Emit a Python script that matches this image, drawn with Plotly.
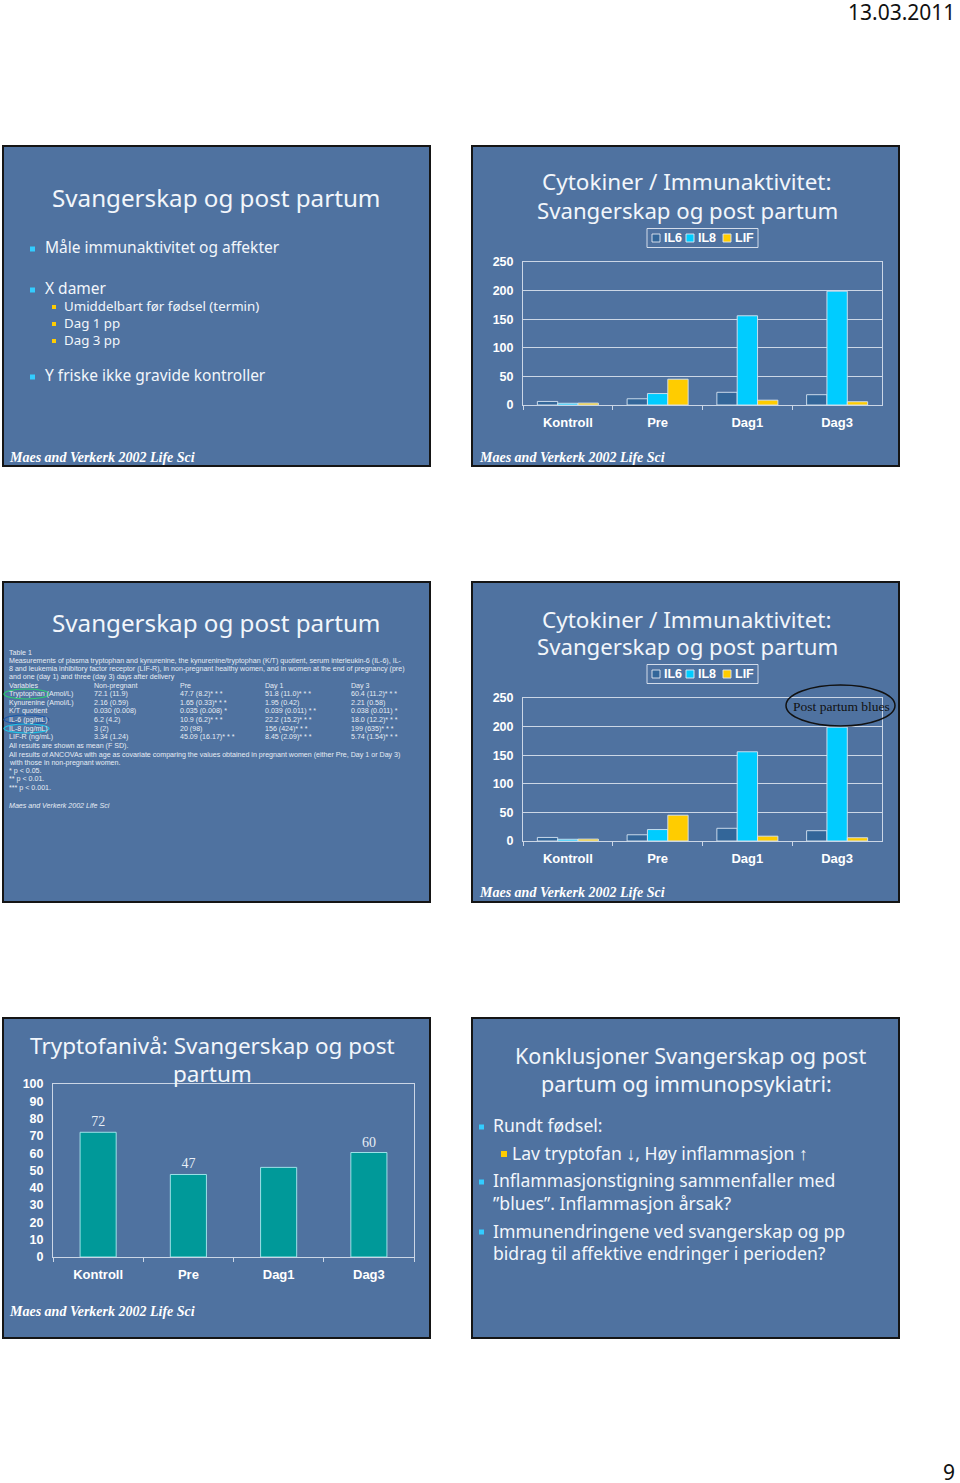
import plotly.graph_objects as go

# ---------------- data ----------------
categories = ["Kontroll", "Pre", "Dag1", "Dag3"]
series_names = ["IL6", "IL8", "LIF"]
il6 = [6.2, 10.9, 22.2, 18.0]
il8 = [3, 20, 156, 199]
lif = [3.34, 45.09, 8.45, 5.74]
tryptophan = [72.1, 47.7, 51.8, 60.4]
trp_labels = ["72", "47", "", "60"]
cyto_ticks = [0, 50, 100, 150, 200, 250]
trp_ticks = [0, 10, 20, 30, 40, 50, 60, 70, 80, 90, 100]

table_head = ["Variables", "Non-pregnant", "Pre", "Day 1", "Day 3"]
table_rows = [
    ["Tryptophan (Amol/L)", "72.1 (11.9)", "47.7 (8.2)* * *", "51.8 (11.0)* * *", "60.4 (11.2)* * *"],
    ["Kynurenine (Amol/L)", "2.16 (0.59)", "1.65 (0.33)* * *", "1.95 (0.42)", "2.21 (0.58)"],
    ["K/T quotient", "0.030 (0.008)", "0.035 (0.008) *", "0.039 (0.011) * *", "0.038 (0.011) *"],
    ["IL-6 (pg/mL)", "6.2 (4.2)", "10.9 (6.2)* * *", "22.2 (15.2)* * *", "18.0 (12.2)* * *"],
    ["IL-8 (pg/mL)", "3 (2)", "20 (98)", "156 (424)* * *", "199 (635)* * *"],
    ["LIF-R (ng/mL)", "3.34 (1.24)", "45.09 (16.17)* * *", "8.45 (2.09)* * *", "5.74 (1.54)* * *"],
]

# ---------------- helpers ----------------
W, H = 960, 1483
def X(p): return p / W
def Y(p): return 1 - p / H

SLIDE_BG = "#4F72A0"
TXT = "#F2F6FB"
SANS = "Noto Sans"
CYAN_B = "#33CCFF"
YEL_B = "#FFCC00"
C_IL6 = "#336699"
C_IL8 = "#00CCFF"
C_LIF = "#FFCC00"
FRAME = "rgba(225,232,242,0.85)"

fig = go.Figure()
annotations = []
shapes = []

def text(x, y, s, size, color=TXT, family=SANS, xanchor="left", weight="normal", style="normal"):
    annotations.append(dict(x=X(x), y=Y(y), xref="paper", yref="paper", text=s, showarrow=False,
                            xanchor=xanchor, yanchor="middle",
                            font=dict(size=size, color=color, family=family, weight=weight, style=style)))

def bullet(x, y, color, size=5):
    shapes.append(dict(type="rect", xref="paper", yref="paper", x0=X(x), x1=X(x + size),
                       y0=Y(y + size / 2), y1=Y(y - size / 2), fillcolor=color, line=dict(width=0)))

def footer(x, y):
    text(x, y, "Maes and Verkerk 2002 Life Sci", 14, color="#FFFFFF",
         family="Liberation Serif", weight="bold", style="italic")

# slides
slides = [(3, 146), (472, 146), (3, 582), (472, 582), (3, 1018), (472, 1018)]
for (sx, sy) in slides:
    shapes.append(dict(type="rect", xref="paper", yref="paper", layer="below",
                       x0=X(sx), x1=X(sx + 427), y0=Y(sy + 320), y1=Y(sy),
                       fillcolor=SLIDE_BG, line=dict(color="#151515", width=2)))

# header / page number
text(957, 12, "13.03.2011", 21, color="#111111", family="Noto Sans", xanchor="right")
text(957, 1472, "9", 21, color="#111111", family="Noto Sans", xanchor="right")

# ---------- slide 1 ----------
text(216, 197, "Svangerskap og post partum", 24.2, xanchor="center")
bullet(30, 249, CYAN_B)
text(43, 247, "Måle immunaktivitet og affekter", 15.5)
bullet(30, 290, CYAN_B)
text(43, 288, "X damer", 15.5)
for yy, s in [(306, "Umiddelbart før fødsel (termin)"), (323, "Dag 1 pp"), (340, "Dag 3 pp")]:
    bullet(52, yy + 1, YEL_B, 4)
    text(62, yy, s, 13.3)
bullet(30, 377, CYAN_B)
text(43, 375, "Y friske ikke gravide kontroller", 15.5)
footer(7, 457)

# ---------- slide 2 ----------
text(687, 182, "Cytokiner / Immunaktivitet:", 22.5, xanchor="center")
text(687, 210, "Svangerskap og post partum", 22.2, xanchor="center")
footer(477, 457)

# ---------- slide 3 ----------
text(216, 622, "Svangerskap og post partum", 24.2, xanchor="center")
TF = "Liberation Sans"
TS = 7.1
TC = "#E6ECF4"
lines_top = [
    (653, "Table 1"),
    (661, "Measurements of plasma tryptophan and kynurenine, the kynurenine/tryptophan (K/T) quotient, serum interleukin-6 (IL-6), IL-"),
    (669, "8 and leukemia inhibitory factor receptor (LIF-R), in non-pregnant healthy women, and in women at the end of pregnancy (pre)"),
    (677, "and one (day 1) and three (day 3) days after delivery"),
]
for yy, s in lines_top:
    text(7, yy, s, TS, color=TC, family=TF)
cols = [7, 92, 178, 263, 349]
for c, s in zip(cols, table_head):
    text(c, 686, s, TS, color=TC, family=TF)
row_y = [694, 703, 711, 720, 729, 737]
for yy, row in zip(row_y, table_rows):
    for c, s in zip(cols, row):
        text(c, yy, s, TS, color=TC, family=TF)
lines_bot = [
    (746, "All results are shown as mean (F SD)."),
    (755, "All results of ANCOVAs with age as covariate comparing the values obtained in pregnant women (either Pre, Day 1 or Day 3)"),
    (763, "with those in non-pregnant women."),
    (771, "* p &lt; 0.05."),
    (779, "** p &lt; 0.01."),
    (788, "*** p &lt; 0.001."),
]
for yy, s in lines_bot:
    text(7, yy, s, TS, color=TC, family=TF)
text(7, 806, "Maes and Verkerk 2002 Life Sci", TS, color=TC, family=TF, style="italic")
for (y0, y1, col) in [(689, 699, "#2ECC71"), (715, 724, "#1E5AA8"), (724, 733, "#22C3E6")]:
    shapes.append(dict(type="circle", xref="paper", yref="paper", x0=X(4), x1=X(49),
                       y0=Y(y1), y1=Y(y0), line=dict(color=col, width=1.2)))

# ---------- slide 4 ----------
text(687, 619, "Cytokiner / Immunaktivitet:", 22.5, xanchor="center")
text(687, 647, "Svangerskap og post partum", 22.2, xanchor="center")
shapes.append(dict(type="circle", xref="paper", yref="paper", x0=X(786), x1=X(895),
                   y0=Y(726), y1=Y(685), line=dict(color="#111111", width=1.5)))
text(841, 706, "Post partum blues", 13.5, color="#111111", family="Liberation Serif", xanchor="center")
footer(477, 892)

# ---------- slide 5 ----------
text(212, 1045, "Tryptofanivå: Svangerskap og post", 22.5, xanchor="center")
text(212, 1073, "partum", 22.5, xanchor="center")
footer(7, 1311)

# ---------- slide 6 ----------
text(690, 1055, "Konklusjoner Svangerskap og post", 21.6, xanchor="center")
text(686, 1083, "partum og immunopsykiatri:", 21.6, xanchor="center")
bullet(479, 1127, CYAN_B)
text(491, 1125, "Rundt fødsel:", 17.6)
bullet(501, 1154, YEL_B, 6)
text(510, 1153, "Lav tryptofan ↓, Høy inflammasjon ↑", 17.6)
bullet(479, 1182, CYAN_B)
text(491, 1180, "Inflammasjonstigning sammenfaller med", 17.6)
text(491, 1203, "”blues”. Inflammasjon årsak?", 17.6)
bullet(479, 1232, CYAN_B)
text(491, 1231, "Immunendringene ved svangerskap og pp", 17.6)
text(491, 1253, "bidrag til affektive endringer i perioden?", 17.6)

# ---------- cytokine charts (slides 2 and 4) ----------
series_vals = [il6, il8, lif]
series_cols = [C_IL6, C_IL8, C_LIF]
for k, (xa, ya, leg_y) in enumerate([("x", "y", 238), ("x2", "y2", 674)]):
    for name, vals, col in zip(series_names, series_vals, series_cols):
        fig.add_trace(go.Bar(x=categories, y=vals, name=name, xaxis=xa, yaxis=ya,
                             marker=dict(color=col, line=dict(color="rgba(215,228,242,0.9)", width=1)),
                             showlegend=False))
    # legend box
    shapes.append(dict(type="rect", xref="paper", yref="paper", x0=X(647), x1=X(758),
                       y0=Y(leg_y + 9.5), y1=Y(leg_y - 9.5),
                       line=dict(color="rgba(225,232,242,0.9)", width=1)))
    lx = [652, 686, 723]
    for x0, name, col in zip(lx, series_names, series_cols):
        shapes.append(dict(type="rect", xref="paper", yref="paper", x0=X(x0), x1=X(x0 + 8),
                           y0=Y(leg_y + 4), y1=Y(leg_y - 4), fillcolor=col,
                           line=dict(color="rgba(225,232,242,0.9)", width=1)))
        text(x0 + 10, leg_y, name, 12.5, color="#FFFFFF", family="Liberation Sans", weight="bold")

# ---------- tryptophan chart ----------
fig.add_trace(go.Bar(x=categories, y=tryptophan, xaxis="x3", yaxis="y3", text=trp_labels,
                     textposition="outside", cliponaxis=False,
                     textfont=dict(family="Liberation Serif", size=14, color="#E8EEF6"),
                     marker=dict(color="#009999", line=dict(color="rgba(170,235,240,0.9)", width=1)),
                     width=[0.4] * len(categories), showlegend=False))

tickfont = dict(family="Liberation Sans", size=13, color="#FFFFFF", weight="bold")
def xaxis(dom, anchor):
    return dict(domain=dom, anchor=anchor, type="category", showgrid=False, showline=True,
                linecolor=FRAME, linewidth=1, mirror=True, ticks="outside", tickson="boundaries",
                ticklen=4, tickcolor=FRAME, tickfont=tickfont, ticklabelstandoff=5, fixedrange=True)
def yaxis(dom, anchor, rng, tickvals, grid):
    return dict(domain=dom, anchor=anchor, range=rng, tickvals=tickvals, showgrid=grid,
                gridcolor="rgba(235,240,248,0.8)", gridwidth=1, showline=True, linecolor=FRAME,
                linewidth=1, mirror=True, zeroline=False, ticks="", tickfont=dict(tickfont, size=12.5),
                ticklabelstandoff=6, fixedrange=True)

fig.update_layout(
    width=W, height=H, margin=dict(l=0, r=0, t=0, b=0, pad=0, autoexpand=False),
    paper_bgcolor="#FFFFFF", plot_bgcolor="rgba(0,0,0,0)",
    barmode="group", bargap=0.32, bargroupgap=0,
    xaxis=xaxis([X(523), X(882)], "y"),
    yaxis=yaxis([Y(405), Y(262)], "x", [0, 250], cyto_ticks, True),
    xaxis2=xaxis([X(523), X(882)], "y2"),
    yaxis2=yaxis([Y(841), Y(698)], "x2", [0, 250], cyto_ticks, True),
    xaxis3=xaxis([X(53), X(414)], "y3"),
    yaxis3=yaxis([Y(1257), Y(1084)], "x3", [0, 100], trp_ticks, False),
    annotations=annotations, shapes=shapes,
)

fig.write_html("out.html", config={"displayModeBar": False},
               post_script="document.body.style.margin='0';document.body.style.padding='0';"
                           "document.documentElement.style.overflow='hidden';")
